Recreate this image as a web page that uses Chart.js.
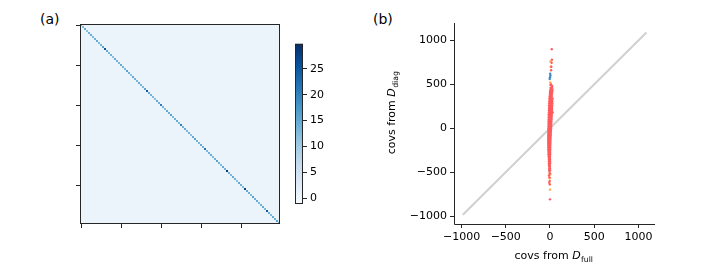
<!DOCTYPE html>
<html><head><meta charset="utf-8">
<script src="https://cdn.jsdelivr.net/npm/chart.js@4/dist/chart.umd.min.js"></script>
<style>
html,body{margin:0;padding:0;background:#fff;width:709px;height:276px;overflow:hidden;}
canvas{position:absolute;top:0;}
.lbl{position:absolute;font:14px "DejaVu Sans";color:#000;line-height:16px;}
</style></head><body>
<div class="lbl" style="left:40px;top:11px">(a)</div>
<div class="lbl" style="left:373px;top:11px">(b)</div>
<canvas id="heat" width="285" height="276" style="left:0"></canvas>
<canvas id="cbar" width="50" height="276" style="left:285px"></canvas>
<canvas id="scat" width="369" height="276" style="left:340px"></canvas>
<script>
// ---------------- data ----------------
const matrixSize = 100;
const matrixTicks = [0, 20, 40, 60, 80];
const offDiagonalValue = 0.7;
const diagonalValues = [
 14,13,15,12,14,15,13,14,15,13, 14,16,26,15,13,14,12,15,14,13,
 15,14,13,16,14,12,15,14,13,15, 14,13,16,25,15,14,13,12,15,14,
 21,14,13,15,14,16,13,14,15,13, 21,14,15,13,14,12,15,16,14,13,
 15,14,22,13,14,15,13,14,16,14, 13,15,14,29,14,13,15,14,12,15,
 14,13,28,15,14,13,16,14,15,13, 14,15,13,25,14,13,15,14,16,14];
const colorRange = [-1.1, 29.8];
const colorbarTicks = [0, 5, 10, 15, 20, 25];

const scatterTicks = [-1000, -500, 0, 500, 1000];
const scatterXRange = [-1085, 1187];
const scatterYRange = [-1091, 1198];
const identityLine = [[-985, -985], [1090, 1090]];
const xTitle = ['covs from ', 'D', 'full'];
const yTitle = ['covs from ', 'D', 'diag'];

const redPoints = [
 [20,900],[22,780],[18,745],[15,700],[12,660],[25,480],[10,500],[8,490],
 [8,460],[22,460],[5,440],[18,440],[28,440],[2,420],[15,420],[25,420],
 [0,400],[12,400],[24,400],[-2,380],[10,380],[22,380],[-4,360],[8,360],[20,360],
 [-5,340],[6,340],[18,340],[28,340],[-6,320],[5,320],[16,320],[26,320],
 [-8,300],[4,300],[15,300],[27,300],[-9,280],[3,280],[14,280],[26,280],
 [-10,260],[2,260],[13,260],[25,260],[-10,240],[1,240],[12,240],[24,240],
 [-11,220],[0,220],[11,220],[23,220],[-12,200],[-1,200],[10,200],[22,200],
 [-12,180],[-2,180],[9,180],[21,180],[30,180],[-13,160],[-2,160],[8,160],[20,160],
 [-14,140],[-3,140],[7,140],[19,140],[-14,120],[-4,120],[6,120],[18,120],
 [-15,100],[-4,100],[5,100],[17,100],[-15,80],[-5,80],[4,80],[16,80],
 [-16,60],[-5,60],[3,60],[15,60],[-16,40],[-6,40],[3,40],[14,40],
 [-17,20],[-6,20],[2,20],[13,20],[-17,0],[-7,0],[1,0],[12,0],
 [-18,-20],[-8,-20],[0,-20],[11,-20],[-18,-40],[-8,-40],[-1,-40],[10,-40],
 [-19,-60],[-9,-60],[-1,-60],[9,-60],[-19,-80],[-10,-80],[-2,-80],[8,-80],
 [-20,-100],[-10,-100],[-2,-100],[7,-100],[-20,-120],[-11,-120],[-3,-120],[6,-120],
 [-20,-140],[-11,-140],[-3,-140],[5,-140],[-20,-160],[-12,-160],[-4,-160],[4,-160],
 [-19,-180],[-12,-180],[-4,-180],[4,-180],[-19,-200],[-12,-200],[-5,-200],[3,-200],
 [-18,-220],[-12,-220],[-5,-220],[3,-220],[-18,-240],[-11,-240],[-5,-240],[2,-240],
 [-17,-260],[-10,-260],[-4,-260],[2,-260],[-16,-280],[-9,-280],[-3,-280],[2,-280],
 [-15,-300],[-8,-300],[-2,-300],[2,-300],[-14,-320],[-7,-320],[-1,-320],
 [-13,-340],[-6,-340],[0,-340],[-12,-360],[-5,-360],[1,-360],
 [-11,-380],[-4,-380],[1,-380],[-10,-400],[-3,-400],[1,-400],
 [-9,-420],[-2,-420],[-8,-440],[-1,-440],[-7,-460],[0,-460],[-6,-480],[1,-480],
 [-5,-500],[-3,-520],[-12,-540],[-6,-560],[-4,-600],[-8,-620],[-2,-640],[0,-810]];
const orangePoints = [
 [5,760],[8,700],[3,520],[10,420],[-8,-300],[-12,-380],[-10,-430],[-6,-470],
 [-4,-530],[6,-520],[-2,-570],[0,-700]];
const bluePoints = [
 [2,620],[5,600],[0,580],[-3,560],[4,350],[-14,-300],[-10,-250],[-12,-420],[-8,-480]];

// ---------------- helpers ----------------
const FONT = '"DejaVu Sans"';
Chart.defaults.font.family = FONT;
Chart.defaults.font.size = 11;
Chart.defaults.color = '#000';
const AXIS = '#262626';
const BLUES = ['#f7fbff','#deebf7','#c6dbef','#9ecae1','#6baed6','#4292c6','#2171b5','#08519c','#08306b']
  .map(h => [1,3,5].map(k => parseInt(h.slice(k,k+2),16)));
function blues(t){
  t = Math.max(0, Math.min(1, t));
  const p = t*8, i = Math.min(7, Math.floor(p)), f = p-i, a = BLUES[i], b = BLUES[i+1];
  return 'rgb(' + [0,1,2].map(k => Math.round(a[k]+(b[k]-a[k])*f)).join(',') + ')';
}
function valueColor(v){ return blues((v-colorRange[0])/(colorRange[1]-colorRange[0])); }
const fixedTicks = arr => (scale => { scale.ticks = arr.map(v => ({value: v})); });
const minusFmt = v => (v < 0 ? '\u2212' : '') + Math.abs(v);

const framePlugin = {id:'frame', afterDraw(chart){
  const a = chart.chartArea, ctx = chart.ctx;
  ctx.save(); ctx.strokeStyle = AXIS; ctx.lineWidth = 1;
  ctx.strokeRect(Math.round(a.left)+0.5, Math.round(a.top)+0.5, Math.round(a.right-a.left)-1, Math.round(a.bottom-a.top)-1);
  ctx.restore();
}};

function tickAxis(opts){
  return Object.assign({
    type:'linear',
    grid:{drawOnChartArea:false, drawTicks:true, tickLength:4, color:AXIS, tickWidth:1},
    border:{display:false},
    ticks:{padding:3, font:{size:11, family:FONT}, color:'#000', autoSkip:false, maxRotation:0}
  }, opts);
}

// ---------------- (a) heatmap ----------------
const heatPlugin = {id:'heatcells', beforeDatasetsDraw(chart){
  const {ctx, scales:{x, y}} = chart;
  ctx.save();
  for (let i = 0; i < matrixSize; i++) for (let j = 0; j < matrixSize; j++){
    const v = i === j ? diagonalValues[i] : offDiagonalValue;
    const x0 = x.getPixelForValue(j-0.5), x1 = x.getPixelForValue(j+0.5);
    const y0 = y.getPixelForValue(i-0.5), y1 = y.getPixelForValue(i+0.5);
    ctx.fillStyle = valueColor(v);
    ctx.fillRect(Math.min(x0,x1), Math.min(y0,y1), Math.abs(x1-x0), Math.abs(y1-y0));
  }
  ctx.restore();
}};
new Chart(document.getElementById('heat'), {
  type:'scatter',
  data:{datasets:[{data:[], pointRadius:0}]},
  options:{
    responsive:false, animation:false, events:[],
    layout:{padding:{left:70, right:5, top:24, bottom:42}},
    plugins:{legend:{display:false}, tooltip:{enabled:false}},
    scales:{
      x: tickAxis({min:-0.5, max:matrixSize-0.5, afterBuildTicks:fixedTicks(matrixTicks),
          afterFit:s=>{s.height=10;}, ticks:{callback:()=>'' , autoSkip:false}}),
      y: tickAxis({min:-0.5, max:matrixSize-0.5, reverse:true, afterBuildTicks:fixedTicks(matrixTicks),
          afterFit:s=>{s.width=10;}, ticks:{callback:()=>'', autoSkip:false}})
    }
  },
  plugins:[heatPlugin, framePlugin]
});

// ---------------- colorbar ----------------
const cbarPlugin = {id:'cbar', beforeDatasetsDraw(chart){
  const {ctx, chartArea:a, scales:{y}} = chart;
  ctx.save();
  const steps = 160;
  for (let k = 0; k < steps; k++){
    const v0 = colorRange[0] + (colorRange[1]-colorRange[0])*k/steps;
    const v1 = colorRange[0] + (colorRange[1]-colorRange[0])*(k+1)/steps;
    const p0 = y.getPixelForValue(v0), p1 = y.getPixelForValue(v1);
    ctx.fillStyle = valueColor((v0+v1)/2);
    ctx.fillRect(a.left, Math.min(p0,p1)-0.3, a.right-a.left, Math.abs(p1-p0)+0.6);
  }
  ctx.restore();
}};
new Chart(document.getElementById('cbar'), {
  type:'scatter',
  data:{datasets:[{data:[], pointRadius:0}]},
  options:{
    responsive:false, animation:false, events:[],
    layout:{padding:{left:10, right:2, top:44, bottom:72}},
    plugins:{legend:{display:false}, tooltip:{enabled:false}},
    scales:{
      x:{type:'linear', display:false, min:0, max:1},
      y: tickAxis({position:'right', min:colorRange[0], max:colorRange[1],
          afterBuildTicks:fixedTicks(colorbarTicks), afterFit:s=>{s.width=30;},
          ticks:{padding:3, font:{size:11, family:FONT}, color:'#000'}})
    }
  },
  plugins:[cbarPlugin, framePlugin]
});

// ---------------- (b) scatter ----------------
function drawMathLabel(ctx, parts, cx, cy, rotate){
  const fonts = ['11px ' + FONT, 'italic 11px ' + FONT, '7.7px ' + FONT];
  const dys = [4, 4, 6.5];
  ctx.save(); ctx.translate(cx, cy); if (rotate) ctx.rotate(-Math.PI/2);
  let total = 0; const w = [];
  parts.forEach((t, k) => { ctx.font = fonts[k]; w[k] = ctx.measureText(t).width; total += w[k]; });
  let x = -total/2; ctx.fillStyle = '#000'; ctx.textBaseline = 'alphabetic'; ctx.textAlign = 'left';
  parts.forEach((t, k) => { ctx.font = fonts[k]; ctx.fillText(t, x, dys[k]); x += w[k] + (k === 1 ? 0.5 : 0); });
  ctx.restore();
}
const titlePlugin = {id:'titles', afterDraw(chart){
  const ctx = chart.ctx, a = chart.chartArea;
  drawMathLabel(ctx, xTitle, (a.left+a.right)/2 - 1, 255, false);
  drawMathLabel(ctx, yTitle, 51, 113, true);
}};
const spinePlugin = {id:'spines', afterDraw(chart){
  const a = chart.chartArea, ctx = chart.ctx;
  ctx.save(); ctx.strokeStyle = AXIS; ctx.lineWidth = 1; ctx.beginPath();
  const l = Math.round(a.left)+0.5, b = Math.round(a.bottom)+0.5;
  ctx.moveTo(l, Math.round(a.top)); ctx.lineTo(l, b); ctx.lineTo(Math.round(a.right), b);
  ctx.stroke(); ctx.restore();
}};
const toXY = arr => arr.map(([x, y]) => ({x, y}));
new Chart(document.getElementById('scat'), {
  type:'scatter',
  data:{datasets:[
    {data:toXY(redPoints), backgroundColor:'#ff5b5e', pointRadius:1.2, borderWidth:0, order:1},
    {data:toXY(orangePoints), backgroundColor:'#ffad45', pointRadius:1.2, borderWidth:0, order:2},
    {data:toXY(bluePoints), backgroundColor:'#3c8bc8', pointRadius:1.2, borderWidth:0, order:3},
    {type:'line', data:toXY(identityLine), borderColor:'#d0d0d0', borderWidth:2, pointRadius:0, order:4}
  ]},
  options:{
    responsive:false, animation:false, events:[],
    layout:{padding:{left:69, right:54, top:23, bottom:30}},
    plugins:{legend:{display:false}, tooltip:{enabled:false}},
    scales:{
      x: tickAxis({min:scatterXRange[0], max:scatterXRange[1], afterBuildTicks:fixedTicks(scatterTicks),
          afterFit:s=>{s.height=22;}, ticks:{padding:3, callback:minusFmt, autoSkip:false, maxRotation:0}}),
      y: tickAxis({min:scatterYRange[0], max:scatterYRange[1], afterBuildTicks:fixedTicks(scatterTicks),
          afterFit:s=>{s.width=45;}, ticks:{padding:3, callback:minusFmt, autoSkip:false}})
    }
  },
  plugins:[spinePlugin, titlePlugin]
});
</script>
</body></html>
